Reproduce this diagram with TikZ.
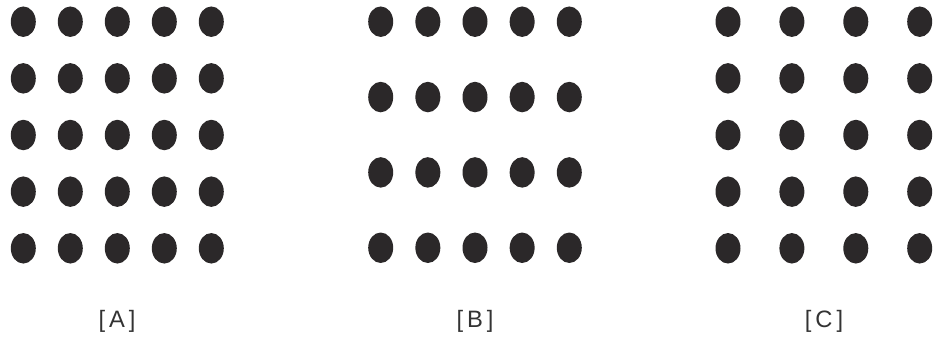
\documentclass[tikz,border=0pt]{standalone}
\usepackage{fontspec}
\setsansfont{Liberation Sans}
\definecolor{dotgray}{HTML}{2B2829}
\definecolor{labelgray}{HTML}{333333}
\tikzset{
  dot/.style={fill=dotgray},
  panellabel/.style={font=\sffamily\fontsize{13.5}{15}\selectfont,text=labelgray}
}
\newcommand{\dotat}[2]{%
  \coordinate (#1) at (#2);
  \fill[dot] (#1) ellipse [x radius=0.25cm,y radius=0.305cm];}
\begin{document}
\begin{tikzpicture}[x=0.02cm,y=-0.02cm]
  \useasboundingbox (0,0) rectangle (934,342);
  % [A] 5 x 5, even spacing
  \foreach \r in {0,...,4}
    \foreach \c in {0,...,4}
      {\dotat{a-\r-\c}{23.3+47*\c,21.7+56.65*\r}}
  % [B] 4 rows, rows spread apart
  \foreach \r in {0,...,3}
    \foreach \c in {0,...,4}
      {\dotat{b-\r-\c}{380.7+47.15*\c,21.7+75.35*\r}}
  % [C] 4 columns, columns spread apart
  \foreach \r in {0,...,4}
    \foreach \c in {0,...,3}
      {\dotat{c-\r-\c}{728+63.9*\c,21.7+56.65*\r}}
  \node[panellabel] (lab-a) at (117,321.7) {[\,A\,]};
  \node[panellabel] (lab-b) at (475,321.7) {[\,B\,]};
  \node[panellabel] (lab-c) at (824,321.7) {[\,C\,]};
\end{tikzpicture}
\end{document}
